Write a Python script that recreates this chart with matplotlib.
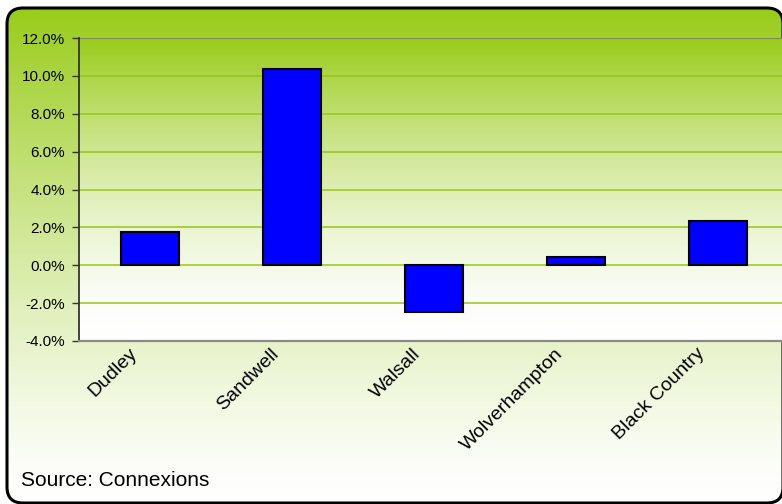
import numpy as np
import matplotlib.pyplot as plt
import matplotlib.transforms as mtransforms
from matplotlib.patches import FancyBboxPatch
from matplotlib.ticker import FuncFormatter

plt.rcParams['font.family'] = ['Liberation Sans', 'DejaVu Sans']

areas = ['Dudley', 'Sandwell', 'Walsall', 'Wolverhampton', 'Black Country']
change = [1.75, 10.35, -2.45, 0.45, 2.35]
y_ticks = [-4, -2, 0, 2, 4, 6, 8, 10, 12]
source_text = 'Source: Connexions'

W, H = 782, 504
green = np.array([153, 204, 26]) / 255.0
white = np.ones(3)


def gradient(n, power):
    t = np.linspace(0, 1, n)[:, None]
    f = (1 - t) ** power
    col = white + (green - white) * f
    return col[:, None, :]


fig = plt.figure(figsize=(W / 100, H / 100), dpi=100)
fig.patch.set_facecolor('white')

# outer rounded panel with vertical gradient
bg = fig.add_axes([0, 0, 1, 1])
bg.set_xlim(0, W)
bg.set_ylim(H, 0)
bg.axis('off')
box = FancyBboxPatch((7, 8), 776, 495, boxstyle='round,pad=0,rounding_size=16',
                     facecolor='none', edgecolor='black', linewidth=2.2, zorder=3)
bg.add_patch(box)
img = bg.imshow(np.repeat(gradient(300, 1.3), 2, axis=1), extent=(7, 783, 503, 8),
                aspect='auto', zorder=1)
img.set_clip_path(box)
bg.text(21, 486, source_text, fontsize=15, color='black', va='baseline', ha='left')

# plot area
ax = fig.add_axes([79 / W, (H - 341) / H, 710 / W, 303 / H])
x = np.arange(len(areas))
ax.set_xlim(-0.5, len(areas) - 0.5)
ax.set_ylim(-4, 12)
ax.imshow(np.repeat(gradient(300, 1.6), 2, axis=1), extent=(-0.5, len(areas) - 0.5, -4, 12),
          aspect='auto', zorder=0)
for v in y_ticks[1:-1]:
    ax.axhline(v, color='#99c51a', lw=1.1, zorder=1)
ax.axhline(12, color='#7f8a55', lw=1.6, zorder=1)

ax.bar(x, change, width=0.41, color='#0000ff', edgecolor='black', linewidth=1.5, zorder=3)

ax.set_yticks(y_ticks)
ax.yaxis.set_major_formatter(FuncFormatter(lambda v, p: f'{v:.1f}%'))
ax.tick_params(axis='y', length=5, width=1, color='#333333', pad=5, labelsize=11)
ax.set_xticks(x)
ax.set_xticklabels(areas, rotation=45, ha='right', rotation_mode='anchor', fontsize=14)
ax.tick_params(axis='x', length=0, pad=6)
shift = mtransforms.ScaledTranslation(-22 / 100, 4 / 100, fig.dpi_scale_trans)
for lbl in ax.get_xticklabels():
    lbl.set_transform(lbl.get_transform() + shift)
for s in ['top', 'right']:
    ax.spines[s].set_visible(False)
ax.spines['left'].set_color('#333333')
ax.spines['left'].set_linewidth(1.3)
ax.spines['bottom'].set_color('#8a8a8a')
ax.spines['bottom'].set_linewidth(1.6)

fig.savefig('out.png', dpi=100)
